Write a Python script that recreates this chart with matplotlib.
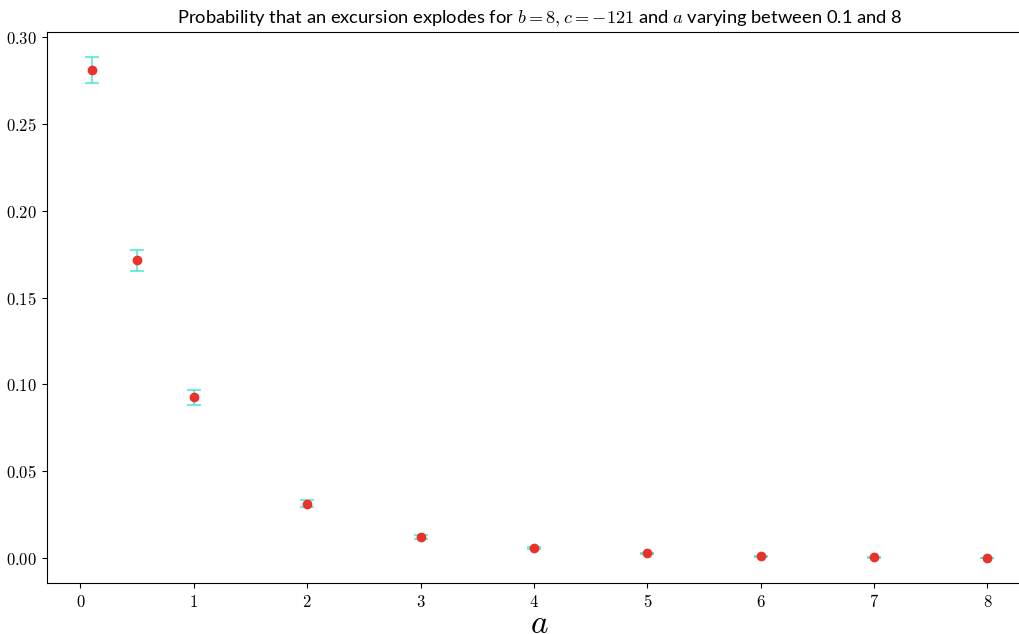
import matplotlib
matplotlib.use('Agg')
import matplotlib.pyplot as plt
from matplotlib.ticker import FuncFormatter

plt.rcParams['mathtext.fontset'] = 'cm'

# valeurs
a_values = [0.1, 0.5, 1, 2, 3, 4, 5, 6, 7, 8]
prob = [0.281, 0.1715, 0.0925, 0.0312, 0.0121, 0.0058, 0.0026, 0.0010, 0.0003, 0.0001]
err = [0.0075, 0.006, 0.0044, 0.0020, 0.0012, 0.0008, 0.0005, 0.0003, 0.0002, 0.0001]

fig = plt.figure(figsize=(10.2, 6.34), dpi=100)
ax = fig.add_axes([0.046, 0.0804, 0.966, 0.869])

ax.errorbar(a_values, prob, yerr=err, fmt='o', color='#e8322a', markersize=6,
            ecolor='#40e0d0', elinewidth=1.5, capsize=5, capthick=1.5, zorder=3)
# barres d'erreur un peu transparentes
ax.containers[0][2][0].set_alpha(0.7)
for cap in ax.containers[0][1]:
    cap.set_alpha(0.7)

ax.spines['right'].set_visible(False)

ax.set_xticks(range(0, 9))
ax.xaxis.set_major_formatter(FuncFormatter(lambda v, p: r'$%d$' % v))
ax.yaxis.set_major_formatter(FuncFormatter(lambda v, p: r'$%.2f$' % v))
ax.tick_params(labelsize=12)

ax.set_xlabel(r'$a$', fontsize=24, labelpad=-3)
ax.set_title(r'Probability that an excursion explodes for $b=8, c=-121$ and $a$ varying between 0.1 and 8',
             fontsize=13.2, family='Lato')

plt.savefig('out.png', dpi=100)
